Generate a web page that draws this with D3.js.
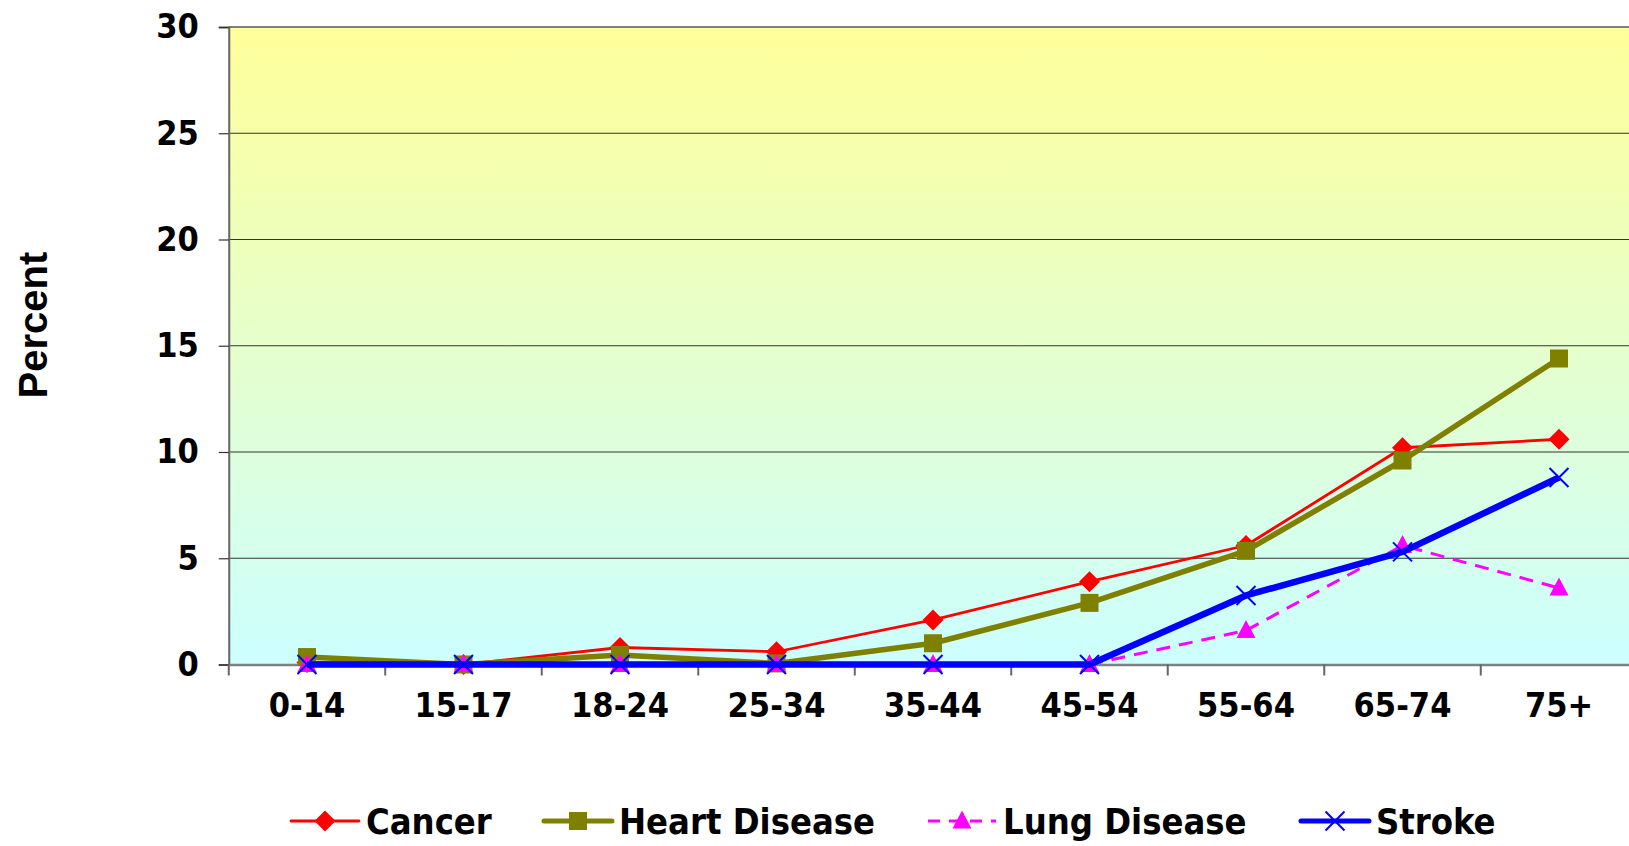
<!DOCTYPE html>
<html>
<head>
<meta charset="utf-8">
<script src="https://cdn.jsdelivr.net/npm/d3@7"></script>
<style>
  body { margin: 0; background: white; }
  svg { display: block; }
</style>
</head>
<body>
<script>
// age groups and series values (percent)
var ageGroups = ["0-14", "15-17", "18-24", "25-34", "35-44", "45-54", "55-64", "65-74", "75+"];
var cancer       = [0.1, 0.0, 0.8, 0.6, 2.1, 3.9, 5.6, 10.2, 10.6];
var heartDisease = [0.35, 0.0, 0.45, 0.05, 1.0, 2.9, 5.35, 9.6, 14.4];
var lungDisease  = [0.0, 0.0, 0.0, 0.0, 0.0, 0.0, 1.6, 5.6, 3.6];
var stroke       = [0.0, 0.0, 0.0, 0.0, 0.0, 0.0, 3.25, 5.3, 8.8];
var yTicks = [0, 5, 10, 15, 20, 25, 30];

var W = 1629, H = 846;
var plotLeft = 228.75, plotTop = 27, plotBottom = 664.5;
var bandW = 156.5;

var svg = d3.select("body").append("svg")
  .attr("width", W)
  .attr("height", H);

var defs = svg.append("defs");
var grad = defs.append("linearGradient")
  .attr("id", "bg").attr("x1", 0).attr("y1", 0).attr("x2", 0).attr("y2", 1);
grad.append("stop").attr("offset", "0%").attr("stop-color", "#FFFF99");
grad.append("stop").attr("offset", "100%").attr("stop-color", "#CCFFFF");

var x = d3.scaleBand()
  .domain(ageGroups)
  .range([plotLeft, plotLeft + bandW * ageGroups.length]);

var y = d3.scaleLinear()
  .domain([0, 30])
  .range([plotBottom, plotTop]);

// plot background
svg.append("rect")
  .attr("x", plotLeft).attr("y", plotTop)
  .attr("width", x.range()[1] - plotLeft)
  .attr("height", plotBottom - plotTop)
  .attr("fill", "url(#bg)");

// gridlines
svg.append("g")
  .selectAll("line")
  .data(yTicks.filter(function(d) { return d > 0 && d < 30; }))
  .enter().append("line")
  .attr("x1", plotLeft).attr("x2", x.range()[1])
  .attr("y1", function(d) { return y(d); })
  .attr("y2", function(d) { return y(d); })
  .attr("stroke", "#333")
  .attr("stroke-width", 1.2);

// top border
svg.append("line")
  .attr("x1", plotLeft).attr("x2", x.range()[1])
  .attr("y1", plotTop).attr("y2", plotTop)
  .attr("stroke", "#808080").attr("stroke-width", 2);

var fontTxt = "'DejaVu Sans Condensed', 'DejaVu Sans', sans-serif";

// y axis
var yAxis = svg.append("g")
  .attr("transform", "translate(" + plotLeft + ",0)")
  .call(d3.axisLeft(y).tickValues(yTicks).tickSize(10).tickPadding(20));
yAxis.select(".domain").attr("stroke", "#666").attr("stroke-width", 2);
yAxis.selectAll(".tick line").attr("stroke", "#333").attr("stroke-width", 1.2);
yAxis.selectAll(".tick text")
  .style("font-family", fontTxt)
  .style("font-weight", "bold")
  .style("font-size", "34px")
  .attr("fill", "#000");

// x axis
var xAxis = svg.append("g")
  .attr("transform", "translate(0," + plotBottom + ")")
  .call(d3.axisBottom(x).tickSize(0).tickPadding(28));
xAxis.select(".domain").attr("stroke", "#808080").attr("stroke-width", 2.5);
xAxis.selectAll(".tick text")
  .style("font-family", fontTxt)
  .style("font-weight", "bold")
  .style("font-size", "34px")
  .attr("fill", "#000");
xAxis.append("g")
  .selectAll("line")
  .data(ageGroups)
  .enter().append("line")
  .attr("x1", function(d) { return x(d); })
  .attr("x2", function(d) { return x(d); })
  .attr("y1", 0).attr("y2", 11)
  .attr("stroke", "#666").attr("stroke-width", 2);

// y title
svg.append("text")
  .attr("transform", "translate(47,325) rotate(-90)")
  .attr("text-anchor", "middle")
  .style("font-family", "'Liberation Sans', Arial, sans-serif")
  .style("font-weight", "bold")
  .style("font-size", "40px")
  .text("Percent");

// series
var series = [
  {name: "Cancer", values: cancer, color: "#FF0000", width: 2.8, dash: null, marker: "diamond"},
  {name: "Heart Disease", values: heartDisease, color: "#808000", width: 5.5, dash: null, marker: "square"},
  {name: "Lung Disease", values: lungDisease, color: "#FF00FF", width: 3, dash: "14,9", marker: "triangle"},
  {name: "Stroke", values: stroke, color: "#0000FF", width: 6.5, dash: null, marker: "cross"}
];

function drawMarker(g, type, color, cx, cy) {
  if (type === "diamond") {
    g.append("path")
      .attr("d", "M" + cx + "," + (cy - 10.5) + "L" + (cx + 10.5) + "," + cy + "L" + cx + "," + (cy + 10.5) + "L" + (cx - 10.5) + "," + cy + "Z")
      .attr("fill", color);
  } else if (type === "square") {
    g.append("rect")
      .attr("x", cx - 9).attr("y", cy - 9)
      .attr("width", 18).attr("height", 18)
      .attr("fill", color);
  } else if (type === "triangle") {
    g.append("path")
      .attr("d", "M" + cx + "," + (cy - 10.5) + "L" + (cx + 9.5) + "," + (cy + 7.5) + "L" + (cx - 9.5) + "," + (cy + 7.5) + "Z")
      .attr("fill", color);
  } else {
    g.append("path")
      .attr("d", "M" + (cx - 9.5) + "," + (cy - 9.5) + "L" + (cx + 9.5) + "," + (cy + 9.5) + "M" + (cx + 9.5) + "," + (cy - 9.5) + "L" + (cx - 9.5) + "," + (cy + 9.5))
      .attr("stroke", color).attr("stroke-width", 2).attr("fill", "none");
  }
}

var line = d3.line()
  .x(function(d, i) { return x(ageGroups[i]) + x.bandwidth() / 2; })
  .y(function(d) { return y(d); });

series.forEach(function(s) {
  var g = svg.append("g");
  g.append("path")
    .datum(s.values)
    .attr("d", line)
    .attr("fill", "none")
    .attr("stroke", s.color)
    .attr("stroke-width", s.width)
    .attr("stroke-linejoin", "round")
    .attr("stroke-dasharray", s.dash);
  s.values.forEach(function(v, i) {
    drawMarker(g, s.marker, s.color, x(ageGroups[i]) + x.bandwidth() / 2, y(v));
  });
});

// legend
var legendX = [291, 544, 928, 1301];
var legendY = 821;
series.forEach(function(s, i) {
  var g = svg.append("g").attr("transform", "translate(" + legendX[i] + "," + legendY + ")");
  g.append("line")
    .attr("x1", 0).attr("x2", 68)
    .attr("y1", 0).attr("y2", 0)
    .attr("stroke", s.color)
    .attr("stroke-width", Math.min(s.width, 5))
    .attr("stroke-linecap", s.dash ? "butt" : "round")
    .attr("stroke-dasharray", s.dash ? "12,9" : null);
  drawMarker(g, s.marker, s.color, 34, 0);
  g.append("text")
    .attr("x", 75).attr("y", 13)
    .style("font-family", fontTxt)
    .style("font-weight", "bold")
    .style("font-size", "36px")
    .text(s.name);
});
</script>
</body>
</html>
